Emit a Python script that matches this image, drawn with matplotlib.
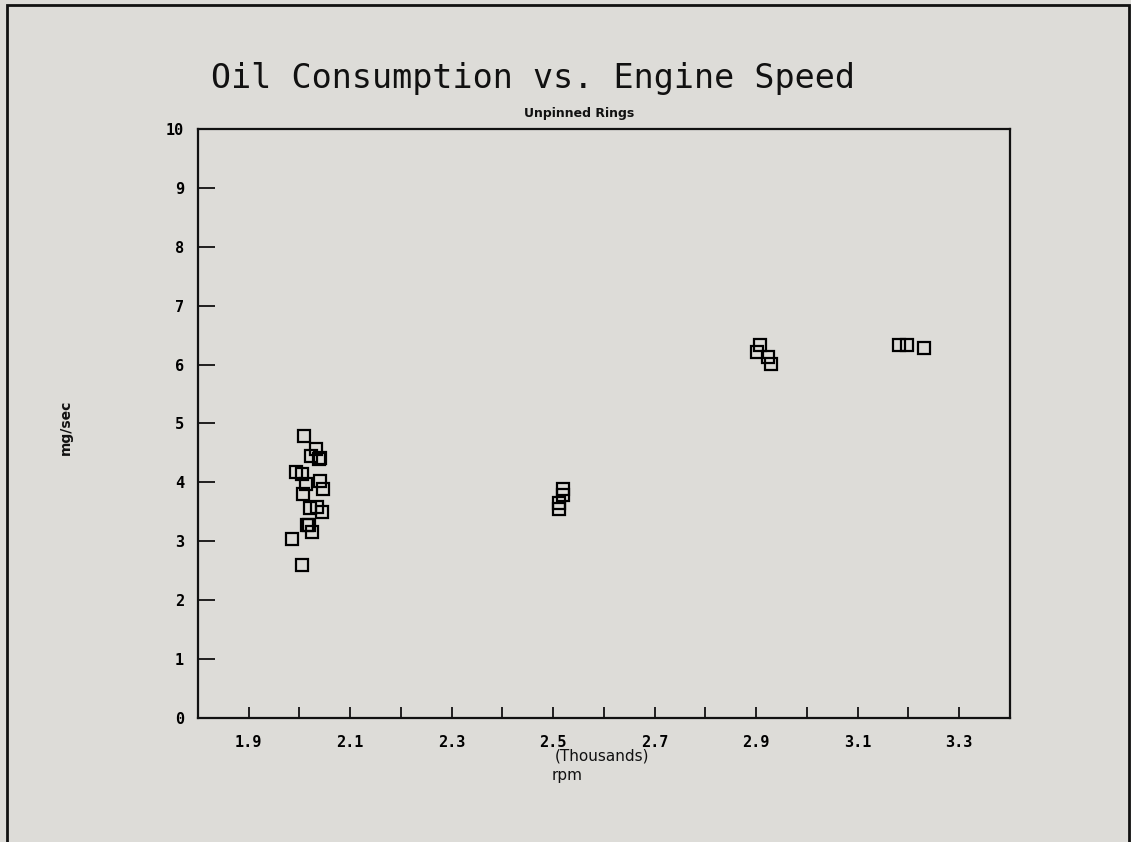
import matplotlib
matplotlib.use("Agg")
import matplotlib.pyplot as plt
from matplotlib.patches import Rectangle

# Data (engine speed in thousands rpm, oil consumption in mg/sec)
rpm_thousands = [2.009, 2.032, 2.023, 2.038, 2.040, 1.994, 2.006, 2.012, 2.040, 2.047,
                 2.007, 2.020, 2.035, 2.044, 2.015, 2.018, 2.024, 1.986, 2.006,
                 2.511, 2.511, 2.519, 2.519,
                 2.902, 2.907, 2.923, 2.929,
                 3.181, 3.197, 3.230]
oil_mg_sec = [4.79, 4.56, 4.45, 4.39, 4.42, 4.18, 4.15, 3.98, 4.02, 3.89,
              3.80, 3.56, 3.59, 3.50, 3.28, 3.27, 3.15, 3.04, 2.60,
              3.55, 3.65, 3.78, 3.88,
              6.21, 6.33, 6.13, 6.01,
              6.33, 6.33, 6.28]

x_ticks = [1.9, 2.1, 2.3, 2.5, 2.7, 2.9, 3.1, 3.3]
x_minor = [2.0, 2.2, 2.4, 2.6, 2.8, 3.0, 3.2]
y_ticks = list(range(0, 11))

bg = "#dddcd8"
fig = plt.figure(figsize=(11.31, 8.42), dpi=100, facecolor=bg)
ax = fig.add_axes([0.175, 0.1473, 0.718, 0.6995])
ax.set_facecolor(bg)

ax.plot(rpm_thousands, oil_mg_sec, linestyle="none", marker="s", markersize=8.5,
        markerfacecolor="none", markeredgecolor="black", markeredgewidth=1.6)

ax.set_xlim(1.8, 3.4)
ax.set_ylim(0, 10)
ax.set_xticks(x_ticks)
ax.set_xticks(x_minor, minor=True)
ax.set_xticklabels([f"{v:.1f}" for v in x_ticks])
ax.set_yticks(y_ticks)
ax.tick_params(axis="x", which="both", direction="in", length=8, width=1.2, pad=12,
               labelsize=11, top=False)
ax.tick_params(axis="y", direction="in", length=12, width=1.2, pad=10, labelsize=11,
               right=False)
for lab in ax.get_xticklabels() + ax.get_yticklabels():
    lab.set_fontweight("bold")
    lab.set_family("DejaVu Sans Mono")

for s in ax.spines.values():
    s.set_linewidth(1.6)
    s.set_color("#111111")

fig.text(0.471, 0.907, "Oil Consumption vs. Engine Speed", ha="center", va="center",
         fontsize=24, family="DejaVu Sans Mono", color="#111111")
fig.text(0.512, 0.865, "Unpinned Rings", ha="center", va="center", fontsize=9,
         fontweight="bold", color="#111111")
fig.text(0.532, 0.102, "(Thousands)", ha="center", va="center", fontsize=11,
         color="#111111")
fig.text(0.488, 0.079, "rpm", ha="left", va="center", fontsize=11, color="#111111")
fig.text(0.058, 0.493, "mg/sec", ha="center", va="center", rotation=90, fontsize=10,
         fontweight="bold", color="#111111")

fig.patches.append(Rectangle((0.006, -0.1), 0.992, 1.094, transform=fig.transFigure,
                             fill=False, edgecolor="#111111", linewidth=2.0))

fig.savefig("out.png", dpi=100, facecolor=bg)
